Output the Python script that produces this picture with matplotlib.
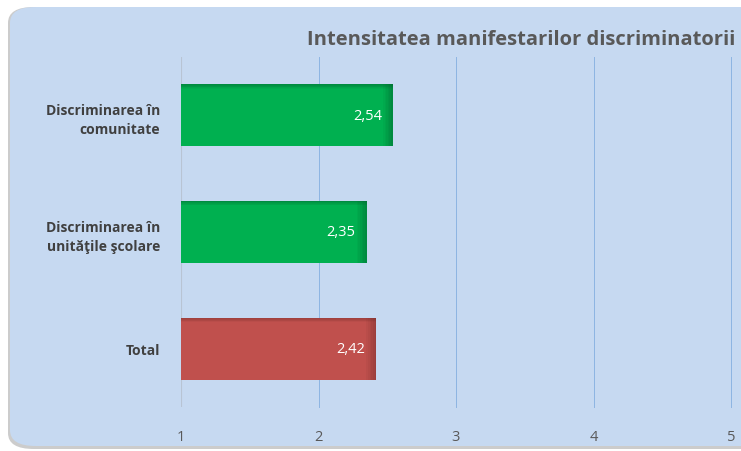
import numpy as np
import matplotlib.pyplot as plt
from matplotlib.patches import FancyBboxPatch

# date
categorii = ["Discriminarea în\ncomunitate", "Discriminarea în\nunităţile şcolare", "Total"]
valori = [2.54, 2.35, 2.42]
culori = ["#00B050", "#00B050", "#C0504D"]
culori_umbra = ["#00602C", "#00602C", "#6E2A28"]
ticks_x = [1, 2, 3, 4, 5]
titlu = "Intensitatea manifestarilor discriminatorii"

plt.rcParams['font.family'] = ['Open Sans', 'DejaVu Sans']

fig = plt.figure(figsize=(7.41, 4.52), dpi=100)
fig.patch.set_facecolor("white")

# fundal rotunjit cu umbra
umbra = FancyBboxPatch((8 / 741, 2 / 452), 1.1, (452 - 10) / 452,
                       boxstyle="round,pad=0,rounding_size=0.035",
                       transform=fig.transFigure, facecolor="#9a9a9a",
                       edgecolor="none", alpha=0.5, zorder=0)
fundal = FancyBboxPatch((10 / 741, 5 / 452), 1.1, (452 - 13) / 452,
                        boxstyle="round,pad=0,rounding_size=0.035",
                        transform=fig.transFigure, facecolor="#C6D9F1",
                        edgecolor="none", zorder=1)
fig.patches.extend([umbra, fundal])

ax = fig.add_axes([181 / 741, (452 - 408) / 452, (731 - 181) / 741, 350 / 452])
ax.set_facecolor("none")
ax.set_zorder(2)

y = np.arange(len(categorii))
h = 0.53
ax.barh(y, np.array(valori) - 1, left=1, height=h, color=culori, zorder=3)

# umbra interioara (sus si dreapta)
for yi, v, cu in zip(y, valori, culori_umbra):
    for k in range(6):
        a = 0.45 * (1 - k / 6)
        ax.barh(yi - h / 2 + k * 0.006 + 0.003, v - 1, left=1, height=0.006,
                color=cu, alpha=a, zorder=4, linewidth=0)
        ax.barh(yi, 0.012, left=v - 0.012 * (k + 1), height=h,
                color=cu, alpha=a, zorder=4, linewidth=0)
    ax.text(v - 0.08, yi, f"{v:.2f}".replace(".", ","), ha="right", va="center",
            color="white", fontsize=10.5, zorder=5)

ax.set_xlim(1, 5)
ax.set_ylim(2.5, -0.5)
ax.set_xticks(ticks_x)
ax.set_yticks(y)
ax.set_yticklabels(categorii, fontsize=10, fontweight="bold", color="#404040",
                   linespacing=1.5)
ax.tick_params(axis="y", length=0, pad=15)
ax.tick_params(axis="x", length=0, pad=16, labelsize=10.5, labelcolor="#595959")
for t in ax.get_yticklabels():
    t.set_horizontalalignment("right")
for s in ax.spines.values():
    s.set_visible(False)
# linii de grila
for xv in ticks_x[1:]:
    ax.axvline(xv, color="#8DB4E2", linewidth=0.7, zorder=1, clip_on=False)
ax.axvline(1, color="#B8C4D4", linewidth=0.8, zorder=1)

fig.text(735 / 741, 1 - 40 / 452, titlu, ha="right", va="center",
         fontsize=14.5, fontweight="bold", color="#595959", zorder=5)

fig.savefig("out.png", dpi=100)
